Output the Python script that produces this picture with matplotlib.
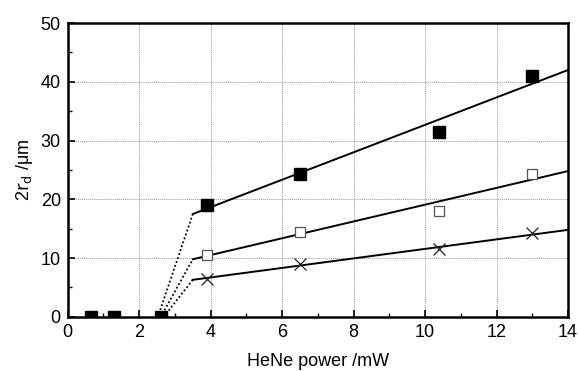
import matplotlib
matplotlib.use("Agg")
import matplotlib.pyplot as plt
import numpy as np

plt.rcParams['font.family'] = ['Liberation Sans', 'DejaVu Sans']

# data
filled_x = [0.65, 1.3, 2.6, 3.9, 6.5, 10.4, 13.0]
filled_y = [0.0, 0.0, 0.0, 19.0, 24.3, 31.5, 41.0]
open_x = [3.9, 6.5, 10.4, 13.0]
open_y = [10.5, 14.5, 18.0, 24.3]
cross_x = [3.9, 6.5, 10.4, 13.0]
cross_y = [6.5, 9.0, 11.5, 14.3]

# fit lines (solid) endpoints
fit_x = [3.5, 14.0]
fit_filled = [17.5, 42.0]
fit_open = [9.8, 24.8]
fit_cross = [6.3, 14.8]

# dotted threshold connections
dot_start_x = [2.55, 2.65, 2.75]
dot_start_y = [0.5, 0.5, 0.5]

fig = plt.figure(figsize=(5.79, 3.71), dpi=100)
ax = fig.add_axes([0.117, 0.146, 0.864, 0.792])

for sx, sy, fy in zip(dot_start_x, dot_start_y, [fit_filled, fit_open, fit_cross]):
    ax.plot([sx, fit_x[0]], [sy, fy[0]], color='black', ls=(0, (1, 1.3)), lw=1.3)
for fy in [fit_filled, fit_open, fit_cross]:
    ax.plot(fit_x, fy, color='black', lw=1.4)

ax.plot(filled_x, filled_y, ls='none', marker='s', ms=8, mfc='black', mec='black', zorder=5)
ax.plot(open_x, open_y, ls='none', marker='s', ms=7.5, mfc='white', mec='#555555', mew=0.9, zorder=5)
ax.plot(cross_x, cross_y, ls='none', marker='x', ms=8, color='#222222', mew=0.9, zorder=5)

ax.set_xlim(0, 14)
ax.set_ylim(0, 50)
ax.set_xticks(np.arange(0, 15, 2))
ax.set_yticks(np.arange(0, 51, 10))
ax.set_xticks(np.arange(1, 14, 2), minor=True)
ax.set_yticks(np.arange(5, 50, 10), minor=True)
ax.grid(True, which='major', color='#999999', ls=(0, (1, 1)), lw=0.7)
ax.tick_params(which='both', direction='in', top=False, right=False, labelsize=13)
ax.tick_params(which='major', length=5, width=1.2, pad=5)
ax.tick_params(which='minor', length=3, width=1.0)
for s in ax.spines.values():
    s.set_linewidth(1.8)

ax.set_xlabel('HeNe power /mW', fontsize=13, labelpad=9)
ax.set_ylabel('2$\\mathrm{r}_{\\mathrm{d}}$ /μm', fontsize=13, labelpad=4)

fig.savefig('out.png', dpi=100)
